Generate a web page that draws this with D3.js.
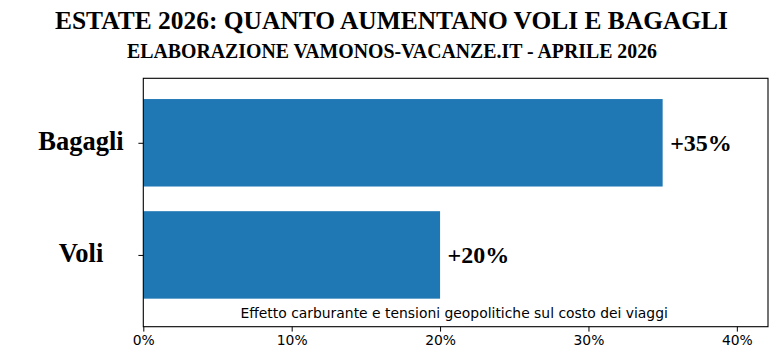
<!DOCTYPE html>
<html><head><meta charset="utf-8">
<script src="https://cdn.jsdelivr.net/npm/d3@7"></script>
<style>body{margin:0;background:#fff}svg{display:block}</style>
</head><body>
<script>
const categories = ["Voli", "Bagagli"];
const values = [20, 35];
const valueLabels = ["+20%", "+35%"];
const xTicks = [0, 10, 20, 30, 40];
const title = "ESTATE 2026: QUANTO AUMENTANO VOLI E BAGAGLI";
const subtitle = "ELABORAZIONE VAMONOS-VACANZE.IT - APRILE 2026";
const note = "Effetto carburante e tensioni geopolitiche sul costo dei viaggi";

const W = 783, H = 355;
const svg = d3.select("body").append("svg").attr("width", W).attr("height", H);
const serif = "'Liberation Serif', 'DejaVu Serif', serif";
const sans = "'DejaVu Sans', sans-serif";

const L = 143.3, R = 768, T = 78.3, B = 326.7;
const x = d3.scaleLinear().domain([0, 42.1]).range([L, R]);
// y in category units: index 0 = Voli, 1 = Bagagli
const y = d3.scaleLinear().domain([-0.64, 1.575]).range([B, T]);
const barH = 0.78;

function fitText(sel, target) {
  const n = sel.node();
  const w = n.getComputedTextLength();
  if (Math.abs(w - target) > 1) sel.attr("textLength", target).attr("lengthAdjust", "spacingAndGlyphs");
}

const t1 = svg.append("text").attr("x", 391.5).attr("y", 28.5).attr("text-anchor", "middle")
  .attr("font-family", serif).attr("font-weight", "bold").attr("font-size", 25).attr("fill", "#000").text(title);
fitText(t1, 673);
const t2 = svg.append("text").attr("x", 392).attr("y", 58).attr("text-anchor", "middle")
  .attr("font-family", serif).attr("font-weight", "bold").attr("font-size", 20).attr("fill", "#000").text(subtitle);
fitText(t2, 530);

// bars
svg.selectAll("rect.bar").data(values).join("rect").attr("class", "bar")
  .attr("x", x(0)).attr("width", d => x(d) - x(0))
  .attr("y", (d, i) => y(i + barH / 2)).attr("height", (d, i) => y(i - barH / 2) - y(i + barH / 2))
  .attr("fill", "#1f77b4");

// value labels
svg.selectAll("text.val").data(values).join("text").attr("class", "val")
  .attr("x", d => x(d) + 7.5).attr("y", (d, i) => y(i) + 8)
  .attr("font-family", serif).attr("font-weight", "bold").attr("font-size", 24).attr("fill", "#000")
  .text((d, i) => valueLabels[i]);

// note
svg.append("text").attr("x", (L + R) / 2 - 1.5).attr("y", 318.3).attr("text-anchor", "middle")
  .attr("font-family", sans).attr("font-size", 13.9).attr("fill", "#000").text(note);

// x axis
const xAxis = d3.axisBottom(x).tickValues(xTicks).tickFormat(d => d + "%").tickSize(4.9).tickPadding(3.5);
const gx = svg.append("g").attr("transform", `translate(0,${B})`).call(xAxis);
gx.select(".domain").remove();
gx.selectAll("text").attr("font-family", sans).attr("font-size", 13.9).attr("fill", "#000");
gx.selectAll("line").attr("stroke", "#000").attr("stroke-width", 1);

// y ticks
const yAxis = d3.axisLeft(y).tickValues([0, 1]).tickFormat("").tickSize(4.9);
const gy = svg.append("g").attr("transform", `translate(${L},0)`).call(yAxis);
gy.select(".domain").remove();
gy.selectAll("line").attr("stroke", "#000");

// category labels (centered)
svg.selectAll("text.cat").data(categories).join("text").attr("class", "cat")
  .attr("x", 81).attr("y", (d, i) => y(i) + 7.5).attr("text-anchor", "middle")
  .attr("font-family", serif).attr("font-weight", "bold").attr("font-size", 26.5).attr("fill", "#000").text(d => d);

// frame
svg.append("rect").attr("x", L).attr("y", T).attr("width", R - L).attr("height", B - T)
  .attr("fill", "none").attr("stroke", "#000").attr("stroke-width", 1.1);
</script>
</body></html>
